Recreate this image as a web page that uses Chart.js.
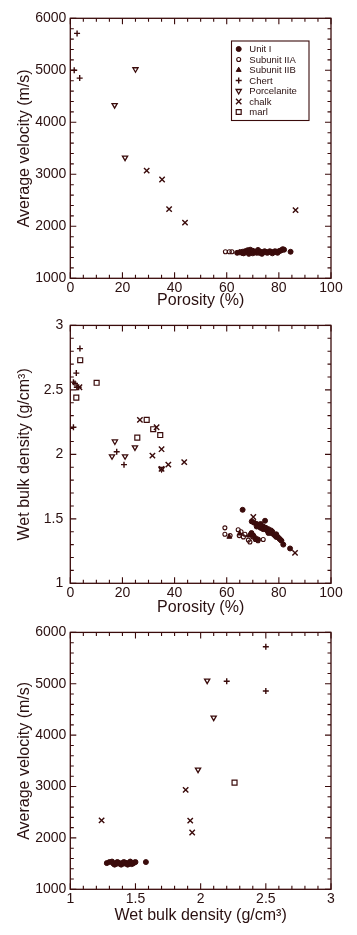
<!DOCTYPE html>
<html><head><meta charset="utf-8">
<script src="https://cdn.jsdelivr.net/npm/chart.js@4.4.0/dist/chart.umd.min.js"></script>
<style>
html,body{margin:0;padding:0;background:#fff;}
body{width:357px;height:935px;position:relative;overflow:hidden;}
canvas{position:absolute;left:0;}
</style></head><body>
<canvas id="c1" width="357" height="310" style="top:0"></canvas>
<canvas id="c2" width="357" height="310" style="top:310px"></canvas>
<canvas id="c3" width="357" height="315" style="top:620px"></canvas>
<script>
// ---------- DATA ----------
const seriesNames = ["Unit I","Subunit IIA","Subunit IIB","Chert","Porcelanite","chalk","marl"];

// Plot 1: porosity (%) vs average velocity (m/s)
const velPor_unitI = [[64,1490],[65,1500],[66,1510],[66.5,1480],[67,1520],[68,1540],[68.5,1470],[69,1510],[69,1550],[70,1530],[70,1480],[70.5,1500],[71,1510],[71.5,1490],[72,1520],[72,1545],[72.5,1490],[73,1510],[73.5,1470],[74,1500],[74.5,1520],[75,1510],[75.5,1490],[76,1500],[76.5,1520],[77,1510],[77.5,1480],[78,1500],[78.5,1520],[79,1510],[79.5,1490],[80,1520],[80.5,1530],[81,1540],[81.5,1560],[82,1550],[84.5,1510]];
const velPor_subIIA = [[59.5,1510],[61,1510],[62,1510],[66,1480],[68,1500]];
const velPor_subIIB = [[65,1500],[67,1490]];
const velPor_chert = [[2.6,5710],[1.5,5000],[3.6,4850]];
const velPor_porc = [[25,5020],[17,4330],[21,3320]];
const velPor_chalk = [[29.3,3070],[35.2,2900],[37.9,2330],[44,2070],[86.4,2310]];
const velPor_marl = [];

// Plot 2: porosity (%) vs wet bulk density (g/cm3)
const denPor_unitI = [[66.1,1.57],[69.6,1.48],[70.5,1.47],[71.5,1.46],[72,1.45],[72.5,1.44],[73,1.45],[73.5,1.43],[74,1.44],[74.7,1.485],[75,1.42],[75.5,1.41],[76,1.42],[76.5,1.40],[77,1.39],[77.5,1.40],[78,1.38],[78.5,1.37],[79,1.36],[79.5,1.36],[80,1.35],[80.5,1.34],[81,1.33],[81.7,1.30],[84.3,1.27],[69.5,1.39],[70.2,1.37],[71,1.35],[72,1.34],[73,1.43],[74,1.42],[75,1.43],[76,1.39],[73,1.46],[71.5,1.44],[77,1.41],[79,1.38]];
const denPor_subIIA = [[59.3,1.43],[59.3,1.38],[61.3,1.37],[64.4,1.415],[64.8,1.37],[65.5,1.40],[66.4,1.36],[67,1.38],[68.3,1.335],[68.9,1.32],[72,1.33],[74,1.34],[71,1.34],[70,1.36]];
const denPor_subIIB = [[61,1.36],[65,1.385],[68.5,1.37],[70,1.38]];
const denPor_chert = [[3.7,2.82],[2.3,2.63],[1.2,2.56],[1.8,2.55],[2.5,2.52],[3.2,2.52],[1.2,2.21],[17.8,2.02],[20.6,1.92]];
const denPor_porc = [[17.1,2.10],[24.8,2.054],[16,1.985],[21,1.985],[35,1.887]];
const denPor_chalk = [[3.5,2.52],[26.7,2.267],[33.1,2.21],[35,2.04],[31.5,1.99],[35,1.887],[37.6,1.92],[43.7,1.94],[70.2,1.514],[86.2,1.236]];
const denPor_marl = [[3.8,2.73],[10.1,2.555],[2.3,2.44],[29.3,2.267],[31.8,2.195],[34.5,2.15],[25.7,2.13]];

// Plot 3: wet bulk density (g/cm3) vs average velocity (m/s)
const velDen_unitI = [[1.28,1510],[1.30,1530],[1.32,1540],[1.33,1500],[1.34,1480],[1.35,1510],[1.36,1500],[1.36,1530],[1.37,1520],[1.38,1500],[1.39,1480],[1.40,1510],[1.41,1500],[1.41,1530],[1.42,1520],[1.43,1500],[1.44,1510],[1.44,1480],[1.45,1500],[1.46,1520],[1.46,1540],[1.47,1510],[1.47,1490],[1.48,1500],[1.49,1520],[1.50,1530],[1.58,1530]];
const velDen_subIIA = [];
const velDen_subIIB = [];
const velDen_chert = [[2.5,5720],[2.5,4860],[2.2,5050]];
const velDen_porc = [[2.05,5060],[2.1,4340],[1.98,3330]];
const velDen_chalk = [[1.885,2934],[1.92,2336],[1.935,2105],[1.24,2342]];
const velDen_marl = [[2.26,3075]];

// axis tick labels
const porosityTicks = [0,20,40,60,80,100];
const velocityTicks = [1000,2000,3000,4000,5000,6000];
const densityTicks = [1,1.5,2,2.5,3];

// ---------- STYLE ----------
const MARK = '#3a0b0b';
const AXIS = '#3a0b0b';
const TEXT = '#2a1010';
const FONT = "'Liberation Sans', Arial, Helvetica, sans-serif";

const styles = [
  {pointStyle:'circle', radius:2.5, backgroundColor:MARK, borderWidth:1, rotation:0},
  {pointStyle:'circle', radius:2, backgroundColor:'rgba(255,255,255,0)', borderWidth:1.1, rotation:0},
  {pointStyle:'triangle', radius:2.8, backgroundColor:MARK, borderWidth:1, rotation:0},
  {pointStyle:'cross', radius:3, backgroundColor:'rgba(255,255,255,0)', borderWidth:1.4, rotation:0},
  {pointStyle:'triangle', radius:3, backgroundColor:'rgba(255,255,255,0)', borderWidth:1.3, rotation:180},
  {pointStyle:'crossRot', radius:3.8, backgroundColor:'rgba(255,255,255,0)', borderWidth:1.4, rotation:0},
  {pointStyle:'rect', radius:3.5, backgroundColor:'rgba(255,255,255,0)', borderWidth:1.2, rotation:0}
];

function makeDatasets(list){
  return list.map((pts,i)=>({
    label: seriesNames[i],
    data: pts.map(p=>({x:p[0],y:p[1]})),
    pointStyle: styles[i].pointStyle,
    pointRadius: styles[i].radius,
    pointRotation: styles[i].rotation,
    pointBackgroundColor: styles[i].backgroundColor,
    pointBorderColor: MARK,
    pointBorderWidth: styles[i].borderWidth,
    showLine:false
  }));
}

function frameTicks(xStep, xMinor, yStep, yMinor){
  return {
    id:'frameTicks',
    afterDraw(chart){
      const {ctx, chartArea:a, scales:{x,y}} = chart;
      ctx.save();
      ctx.strokeStyle = AXIS;
      ctx.lineWidth = 1.3;
      ctx.strokeRect(a.left, a.top, a.right-a.left, a.bottom-a.top);
      ctx.lineWidth = 1.1;
      ctx.beginPath();
      const nx = Math.round((x.max-x.min)/xMinor);
      for(let i=0;i<=nx;i++){
        const v = x.min + i*xMinor;
        const r = v/xStep; const major = Math.abs(r-Math.round(r))<1e-6;
        const L = major?6:3.5;
        const px = x.getPixelForValue(v);
        ctx.moveTo(px,a.bottom); ctx.lineTo(px,a.bottom-L);
        ctx.moveTo(px,a.top); ctx.lineTo(px,a.top+L);
      }
      const ny = Math.round((y.max-y.min)/yMinor);
      for(let i=0;i<=ny;i++){
        const v = y.min + i*yMinor;
        const r = v/yStep; const major = Math.abs(r-Math.round(r))<1e-6;
        const L = major?6:3.5;
        const py = y.getPixelForValue(v);
        ctx.moveTo(a.left,py); ctx.lineTo(a.left+L,py);
        ctx.moveTo(a.right,py); ctx.lineTo(a.right-L,py);
      }
      ctx.stroke();
      ctx.restore();
    }
  };
}

function drawMarker(ctx, st, x, y){
  ctx.fillStyle = st.backgroundColor;
  ctx.strokeStyle = MARK;
  ctx.lineWidth = st.borderWidth;
  if (Chart.helpers && Chart.helpers.drawPoint){
    Chart.helpers.drawPoint(ctx, {pointStyle:st.pointStyle, rotation:st.rotation, radius:st.radius, borderWidth:st.borderWidth}, x, y);
  }
}

const legendBox = {
  id:'legendBox',
  afterDraw(chart){
    const ctx = chart.ctx;
    const left = 231.5, top = 41, w = 77.5, h = 79.5;
    ctx.save();
    ctx.fillStyle = '#fff';
    ctx.fillRect(left,top,w,h);
    ctx.strokeStyle = AXIS; ctx.lineWidth = 1.1;
    ctx.strokeRect(left,top,w,h);
    ctx.font = "9.5px " + FONT;
    ctx.textBaseline = 'middle';
    ctx.textAlign = 'left';
    seriesNames.forEach((name,i)=>{
      const cy = 49 + i*10.5;
      drawMarker(ctx, styles[i], 238.7, cy);
      ctx.fillStyle = TEXT;
      ctx.fillText(name, 249.3, cy+0.5);
    });
    ctx.restore();
  }
};

function tickFmt(v){ return String(v); }

function makeChart(id, datasets, o){
  return new Chart(document.getElementById(id), {
    type:'scatter',
    data:{datasets},
    options:{
      responsive:false,
      animation:false,
      events:[],
      layout:{padding:{top:o.padTop,right:26,left:0,bottom:0}},
      plugins:{legend:{display:false},tooltip:{enabled:false}},
      scales:{
        x:{type:'linear', min:o.xMin, max:o.xMax,
           afterBuildTicks(s){ s.ticks = o.xTicks.map(v=>({value:v})); },
           afterFit(s){ s.height = o.xH; },
           grid:{display:false, drawTicks:false}, border:{display:false},
           ticks:{color:TEXT, font:{family:FONT,size:14}, padding:o.xPad, callback:tickFmt, maxRotation:0, autoSkip:false},
           title:{display:true, text:o.xTitle, color:TEXT, font:{family:FONT,size:16}, padding:{top:0,bottom:o.xTitlePad}}
        },
        y:{type:'linear', min:o.yMin, max:o.yMax,
           afterBuildTicks(s){ s.ticks = o.yTicks.map(v=>({value:v})); },
           afterFit(s){ s.width = 70.3; },
           grid:{display:false, drawTicks:false}, border:{display:false},
           ticks:{color:TEXT, font:{family:FONT,size:14}, padding:o.yPad, callback:tickFmt, autoSkip:false},
           title:{display:true, text:o.yTitle, color:TEXT, font:{family:FONT,size:16}, padding:{top:14.5,bottom:0}}
        }
      }
    },
    plugins:o.plugins
  });
}

makeChart('c1', makeDatasets([velPor_unitI,velPor_subIIA,velPor_subIIB,velPor_chert,velPor_porc,velPor_chalk,velPor_marl]), {
  padTop:18.3, xH:31.7, xMin:0, xMax:100, yMin:1000, yMax:6000,
  xTicks:porosityTicks, yTicks:velocityTicks, xPad:1, yPad:4, xTitlePad:0,
  xTitle:'Porosity (%)', yTitle:'Average velocity (m/s)',
  plugins:[frameTicks(20,5,1000,200), legendBox]
});
makeChart('c2', makeDatasets([denPor_unitI,denPor_subIIA,denPor_subIIB,denPor_chert,denPor_porc,denPor_chalk,denPor_marl]), {
  padTop:14, xH:36.7, xMin:0, xMax:100, yMin:1, yMax:3,
  xTicks:porosityTicks, yTicks:densityTicks, xPad:1, yPad:7, xTitlePad:3,
  xTitle:'Porosity (%)', yTitle:'Wet bulk density (g/cm³)',
  plugins:[frameTicks(20,5,0.5,0.1)]
});
makeChart('c3', makeDatasets([velDen_unitI,velDen_subIIA,velDen_subIIB,velDen_chert,velDen_porc,velDen_chalk,velDen_marl]), {
  padTop:10, xH:45.7, xMin:1, xMax:3, yMin:1000, yMax:6000,
  xTicks:densityTicks, yTicks:velocityTicks, xPad:1, yPad:4, xTitlePad:9.6,
  xTitle:'Wet bulk density (g/cm³)', yTitle:'Average velocity (m/s)',
  plugins:[frameTicks(0.5,0.1,1000,200)]
});
</script>
</body></html>
